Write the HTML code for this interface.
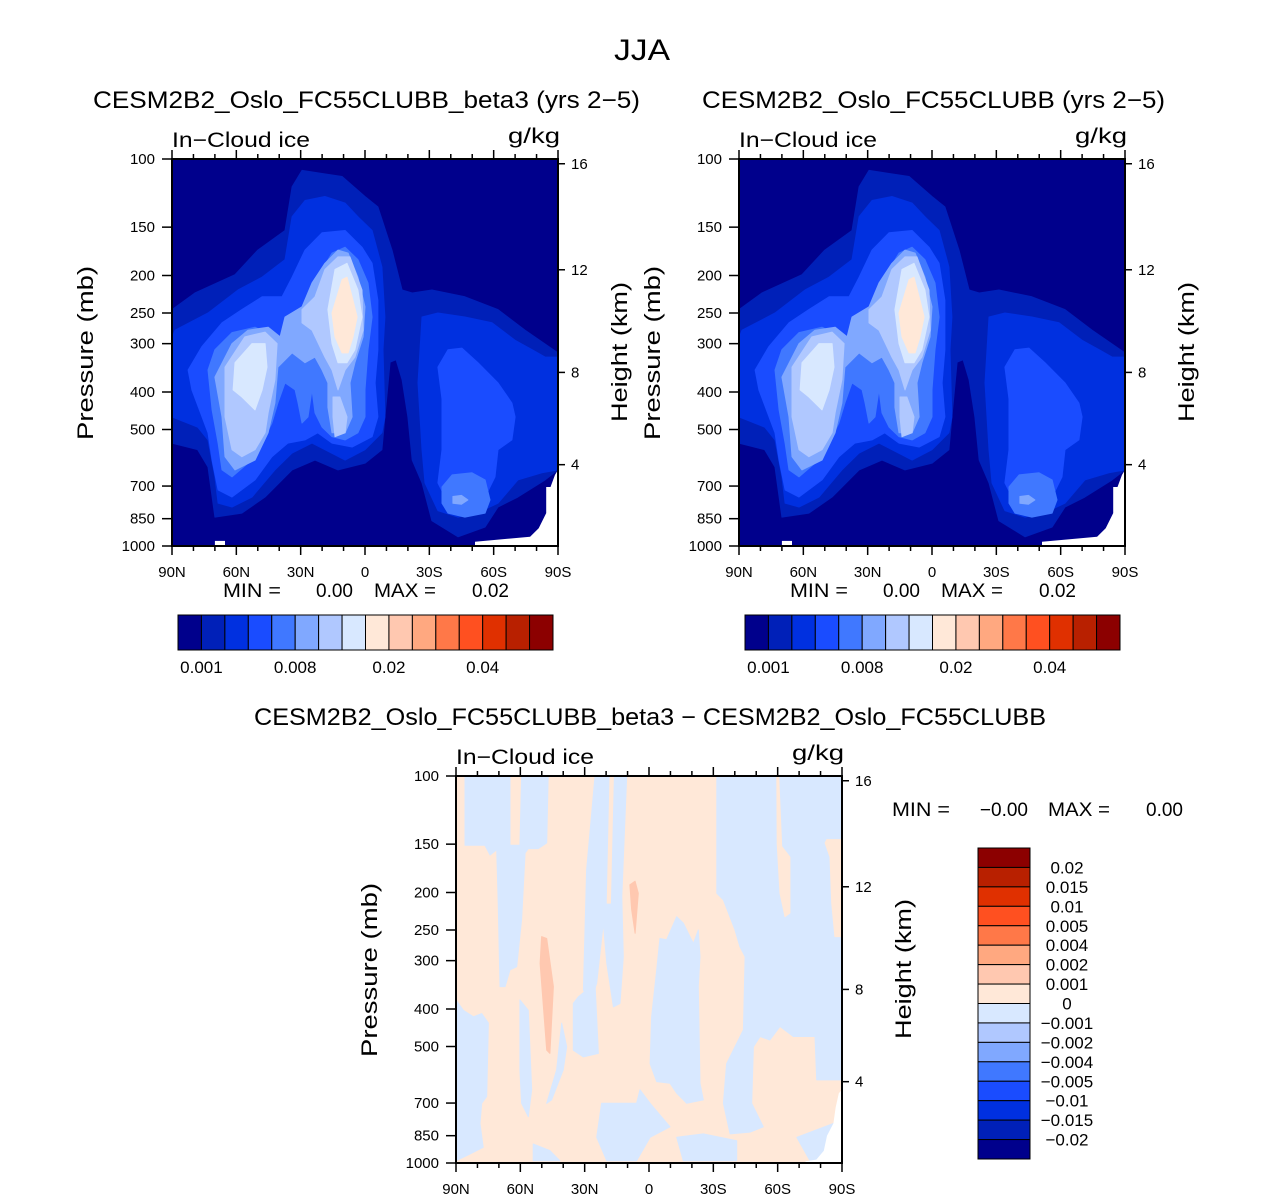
<!DOCTYPE html>
<html><head><meta charset="utf-8"><style>
html,body{margin:0;padding:0;background:#fff;}
svg{display:block;font-family:"Liberation Sans",sans-serif;}
</style></head><body>
<svg id="fig" width="1285" height="1200" viewBox="0 0 1285 1200" xmlns="http://www.w3.org/2000/svg">
<rect x="0" y="0" width="1285" height="1200" fill="#fff"/>
</svg>
<script>
const COLORS = ["#00008c","#0020b8","#0030e0","#1a4cff","#4078ff","#80a8ff","#b0c8ff","#d8e8ff","#ffe8d8","#ffc8b0","#ffa880","#ff7848","#ff5020","#e03000","#b82000","#8c0000"];
const pressureTicks = [100,150,200,250,300,400,500,700,850,1000];
const heightTicks = [4,8,12,16];
const latTicks = [90,60,30,0,-30,-60,-90];
const latTickLabels = ["90N","60N","30N","0","30S","60S","90S"];
const topLegendLabels = ["0.001","0.008","0.02","0.04"];
const topLegendLabelIdx = [1,5,9,13];
const diffLegendLabels = ["0.02","0.015","0.01","0.005","0.004","0.002","0.001","0","\u22120.001","\u22120.002","\u22120.004","\u22120.005","\u22120.01","\u22120.015","\u22120.02"];

/* ---- top panel contour polygons, [lat, pressure] ---- */
const iceL1 = [[90,245],[79.3,222],[60.6,199],[50,172],[37.3,153],[34,118],[29.4,107],[20,109],[10.7,111],[0,125],[-6,133],[-12.6,172],[-17.3,218],[-22,222],[-31.2,218],[-46.6,227],[-62,245],[-74.6,277],[-90,317],[-90,636],[-84,675],[-71.3,747],[-62,793],[-56,893],[-43.4,947],[-31.2,860],[-26.6,687],[-22,600],[-20,464],[-17.3,372],[-14.5,330],[-11.7,335],[-9.3,464],[-7.9,564],[0,611],[12.6,636],[23.3,600],[34,636],[46.6,747],[57.4,822],[70,842],[73.2,625],[78,564],[90,542]];
const iceL2a = [[88.6,277],[73.2,250],[59.2,218],[48,202],[37.3,182],[34,141],[28,128],[18.7,125],[9.3,130],[3.3,141],[-3.3,153],[-7.9,190],[-9.3,256],[-8.4,311],[-9.3,464],[-7.9,510],[0,564],[9.3,600],[18.7,564],[24.7,542],[34,575],[42,636],[52.7,747],[62,793],[68.5,775],[70,663],[73.2,532],[78,493],[90,464],[90,290]];
const iceL2b = [[-26.6,256],[-34,250],[-46.6,256],[-59.2,265],[-70,294],[-77.9,311],[-84,325],[-90,325],[-90,636],[-82.5,647],[-71.3,675],[-62,775],[-54.6,810],[-43.4,842],[-34,810],[-28,687],[-26.6,564],[-24.7,379]];
const iceL3a = [[82.5,351],[76,305],[66.7,265],[57.4,245],[48,227],[38.7,227],[34,202],[28,172],[20,155],[9.3,153],[1.4,169],[-3.3,186],[-6,232],[-6,311],[-4.7,379],[-6,464],[-3.3,522],[6,555],[15.4,542],[22,510],[28,532],[36,542],[43.4,588],[51.3,675],[62,747],[68.5,716],[71.3,600],[73.2,510],[80.7,395]];
const iceL3b = [[-34,345],[-38.7,311],[-45.2,308],[-52.7,336],[-62,379],[-68.5,427],[-70,464],[-68.5,532],[-62,564],[-60.6,663],[-56,747],[-46.6,775],[-37.3,747],[-34,687],[-35.9,564],[-35.9,417]];
const iceL4a = [[73.2,351],[70,311],[62,281],[51.3,272],[42,288],[40.6,311],[36,311],[31.2,265],[28,235],[23.3,218],[20,193],[15.4,175],[9.3,169],[3.3,182],[-1.4,209],[-3.3,256],[-1.4,311],[0,395],[0,464],[3.3,510],[9.3,532],[15.4,522],[20,493],[23.3,453],[24.7,395],[26.6,464],[29.4,481],[31.2,427],[32.6,395],[37.3,379],[40.6,427],[43.4,481],[48,542],[54.6,611],[62,663],[66.7,636],[68.5,542],[71.3,445]];
const iceL4b = [[-35.9,704],[-40.6,655],[-49.9,647],[-56,675],[-58.3,760],[-56,822],[-46.6,842],[-38.7,822],[-35.9,775]];
const iceL5a = [[70,366],[62,300],[54.6,277],[45.2,272],[39.6,288],[37.3,256],[29.4,241],[24.7,209],[18.7,186],[12.6,172],[7.9,175],[3.3,202],[0,241],[0.9,288],[4.7,336],[7,379],[6,464],[9.3,510],[15.4,510],[17.3,438],[17.3,379],[20,351],[23.3,325],[28,336],[34,317],[40.6,345],[42,427],[45.2,510],[51.3,600],[60.6,636],[65.3,588],[66.7,464]];
const iceL5b = [[-41,745],[-45,740],[-48,760],[-45,780],[-41,775]];
const iceL6a = [[65.3,345],[56,288],[46.6,280],[41,300],[42,372],[45.2,453],[46.6,510],[51.3,564],[57.4,588],[62,564],[65.3,464]];
const iceL6b = [[29.4,245],[23.3,227],[18.7,193],[12.6,179],[7,179],[1.4,218],[0.9,277],[4.7,325],[9.3,351],[12.6,395],[15.4,351],[18.7,325],[24.7,277],[29.4,265]];
const iceL6c = [[14.9,412],[11.7,412],[8.4,464],[9.3,510],[14,522],[14.9,464]];
const iceL7a = [[60.6,336],[52.7,300],[46.6,300],[45.7,345],[48,395],[51.3,445],[57.4,412],[61.5,395]];
const iceL7b = [[17.3,245],[14,193],[8.4,186],[3.3,218],[1.4,256],[4.7,311],[8.4,336],[12.6,336],[15.4,300]];
const iceL8 = [[15.4,250],[10.7,205],[8.4,202],[5.6,232],[3.7,256],[5.6,288],[7.9,317],[10.7,317],[14,288]];
const iceMissingA = [[-90,636],[-88.6,655],[-86.5,704],[-84.5,704],[-84.5,822],[-81,900],[-77,947],[-51.3,975],[-51.3,1000],[-90,1000]];
const iceMissingB = [[70,970],[65.3,970],[65.3,1000],[70,1000]];
const iceContours = [iceL1,iceL2a,iceL2b,iceL3a,iceL3b,iceL4a,iceL4b,iceL5a,iceL5b,iceL6a,iceL6b,iceL6c,iceL7a,iceL7b,iceL8];
const iceContourLevels = [1,2,2,3,3,4,4,5,5,6,6,6,7,7,8];

/* ---- difference panel polygons ---- */
const diffB1 = [[85.8,100],[64.8,100],[64.8,151],[60.2,151],[59.4,100],[47,100],[47.7,149],[51.6,154],[56.3,154],[57.8,158],[59.4,235],[61.7,311],[64.8,317],[67.1,350],[69.5,350],[70.3,213],[71,155],[74.1,160],[76.5,151],[85.8,151]];
const diffB2 = [[25.2,100],[10.4,100],[12.7,205],[12,293],[13.5,387],[16.6,395],[19.7,305],[21.3,240],[24.4,343],[27.5,387],[30.6,357],[29.1,175]];
const diffB3 = [[32.9,372],[25.2,343],[23.6,521],[30.6,532],[35.3,511],[35.3,387]];
const diffB4 = [[-5.1,263],[-8.2,265],[-12.9,231],[-16,240],[-20.7,271],[-23,250],[-23.8,293],[-23,350],[-23.8,622],[-25.3,687],[-17.6,701],[-12.9,660],[-9.8,622],[-3.6,616],[-0.5,554],[-1.2,419],[-3.6,317]];
const diffB5 = [[-31.6,100],[-90,100],[-90,610],[-78.2,610],[-77.4,471],[-67.3,471],[-61.1,444],[-56.4,481],[-51.8,471],[-48.7,501],[-47.9,701],[-53.3,806],[-47.1,832],[-37.8,841],[-34.7,701],[-36.2,554],[-44,453],[-44.8,293],[-42.4,276],[-40.1,250],[-34.7,209],[-31.6,201]];
const diffB6 = [[90,379],[86.6,403],[81.9,419],[78,411],[74.9,435],[75.7,673],[78,701],[78.8,790],[77.3,911],[83.5,948],[90,987]];
const diffB7 = [[60.2,379],[56.3,403],[54.7,647],[56.3,759],[59.4,701],[60.2,575]];
const diffB8 = [[40.7,435],[38.4,501],[40,575],[45.4,687],[47.7,701],[43.1,575]];
const diffB9 = [[22.1,701],[5.8,701],[4.2,647],[-0.5,701],[-9.8,806],[-0.5,858],[5.8,987],[19.7,987],[24.4,858]];
const diffB10 = [[54,893],[46.2,929],[41.5,987],[54,987]];
const diffB11 = [[-12.9,858],[-25.3,841],[-40.9,876],[-40.9,987],[-16,987]];
const diffB12 = [[-68.9,858],[-90,775],[-90,1000],[-75.1,987]];
const diffP0 = [[18.2,100],[16.6,100],[18,213],[19.5,213]];
const diffP1 = [[-59.6,100],[-60.5,100],[-61.9,152],[-65.7,162],[-65.7,226],[-63.4,231],[-61.1,201],[-59.8,150]];
const diffP2 = [[-82.9,146],[-90,146],[-90,260],[-86.7,260],[-85.2,213],[-84.4,162],[-82.1,149]];
const diffR1 = [[50.1,260],[47.7,263],[44.6,350],[46.2,521],[47.7,511],[50.8,305]];
const diffR2 = [[8.9,191],[6.5,187],[5,201],[6.5,255],[8.1,221]];
const diffMissing = [[-90,647],[-88.5,660],[-87,720],[-86,790],[-83,850],[-81.5,930],[-78,980],[-73,990],[-73,1000],[-90,1000]];
const diffContours = [diffB1,diffB2,diffB3,diffB4,diffB5,diffB6,diffB7,diffB8,diffB9,diffB10,diffB11,diffB12,diffP0,diffP1,diffP2,diffR1,diffR2];
const diffContourLevels = [7,7,7,7,7,7,7,7,7,7,7,7,8,8,8,9,9];

const NS = "http://www.w3.org/2000/svg";
const svg = document.getElementById("fig");
function mk(tag, attrs, parent){const e=document.createElementNS(NS,tag);for(const k in attrs)e.setAttribute(k,attrs[k]);(parent||svg).appendChild(e);return e;}
function txt(s, attrs, parent){const e=mk("text",attrs,parent);if(attrs.textLength)e.setAttribute("lengthAdjust","spacingAndGlyphs");e.textContent=s;return e;}
function heightToP(h){return h<=11?1013.25*Math.pow(1-h/44.3308,5.25588):226.32*Math.exp(-(h-11)/6.3416);}

const W=386,H=387;
function drawPanel(x0,y0,bgLevel,contours,levels,missing,name){
  const xOf=lat=>x0+(90-lat)/180*W;
  const yOf=p=>y0+Math.log10(p/100)*H;
  const g=mk("g",{});
  
  
  const bg=mk("rect",{x:x0,y:y0,width:W,height:H,fill:COLORS[bgLevel]},g);
  
  
  contours.forEach((poly,i)=>{
    const pts=poly.map(d=>xOf(d[0]).toFixed(1)+","+yOf(d[1]).toFixed(1)).join(" ");
    const e=mk("polygon",{points:pts,fill:COLORS[levels[i]],stroke:COLORS[levels[i]],"stroke-width":1,"stroke-linejoin":"round"},g);
    
    
  });
  missing.forEach(poly=>{
    const pts=poly.map(d=>xOf(d[0]).toFixed(1)+","+yOf(d[1]).toFixed(1)).join(" ");
    const e=mk("polygon",{points:pts,fill:"#fff"},g);
    
    
  });
  const fr=mk("rect",{x:x0,y:y0,width:W,height:H,fill:"none",stroke:"#000","stroke-width":2},g);
  
  
  for(let lat=90;lat>=-90;lat-=10){
    const x=xOf(lat), major=(lat%30===0), L=major?9:5;
    mk("line",{x1:x,y1:y0,x2:x,y2:y0-L,stroke:"#000","stroke-width":1.5},g);
    mk("line",{x1:x,y1:y0+H,x2:x,y2:y0+H+L,stroke:"#000","stroke-width":1.5},g);
  }
  latTicks.forEach((lat,i)=>{
    const t=txt(latTickLabels[i],{x:xOf(lat),y:y0+H+31,"font-size":15,"text-anchor":"middle",fill:"#000"},g);
    
    
  });
  pressureTicks.forEach(p=>{
    const y=yOf(p);
    mk("line",{x1:x0-10,y1:y,x2:x0,y2:y,stroke:"#000","stroke-width":1.5},g);
    const t=txt(String(p),{x:x0-17,y:y+5,"font-size":15,"text-anchor":"end",fill:"#000"},g);
    
    
  });
  heightTicks.forEach(h=>{
    const y=yOf(heightToP(h));
    mk("line",{x1:x0+W,y1:y,x2:x0+W+7,y2:y,stroke:"#000","stroke-width":1.5},g);
    const t=txt(String(h),{x:x0+W+13,y:y+5,"font-size":15,fill:"#000"},g);
    
    
  });
  const yl=txt("Pressure  (mb)",{x:0,y:0,"font-size":22,"text-anchor":"middle",textLength:174,transform:`translate(${x0-79},${y0+194}) rotate(-90)`,fill:"#000"},g);
  
  
  const yr=txt("Height  (km)",{x:0,y:0,"font-size":22,"text-anchor":"middle",textLength:140,transform:`translate(${x0+W+69},${y0+193}) rotate(-90)`,fill:"#000"},g);
  
  
  const ls=txt("In\u2212Cloud ice",{x:x0,y:y0-12,"font-size":21,textLength:138,fill:"#000"},g);
  
  
  const rs=txt("g/kg",{x:x0+W+2,y:y0-16,"font-size":21,"text-anchor":"end",textLength:52,fill:"#000"},g);
  
  
}

drawPanel(172,159,0,iceContours,iceContourLevels,[iceMissingA,iceMissingB],"panel-beta3");
drawPanel(739,159,0,iceContours,iceContourLevels,[iceMissingA,iceMissingB],"panel-control");
drawPanel(456,776,8,diffContours,diffContourLevels,[diffMissing],"panel-difference");

const tMain=txt("JJA",{x:642,y:60,"font-size":30,"text-anchor":"middle",textLength:56,fill:"#000"});


const t1=txt("CESM2B2_Oslo_FC55CLUBB_beta3 (yrs 2\u22125)",{x:93,y:108,"font-size":24,textLength:547,fill:"#000"});


const t2=txt("CESM2B2_Oslo_FC55CLUBB (yrs 2\u22125)",{x:702,y:108,"font-size":24,textLength:463,fill:"#000"});


const t3=txt("CESM2B2_Oslo_FC55CLUBB_beta3 \u2212 CESM2B2_Oslo_FC55CLUBB",{x:254,y:725,"font-size":24,textLength:792,fill:"#000"});



function minmax(x,y,minV,maxV,name,gap){
  const g=mk("g",{});
  
  
  txt("MIN  =",{x:x,y:y,"font-size":19,textLength:58,fill:"#000"},g);
  txt(minV,{x:x+gap[0],y:y,"font-size":19,"text-anchor":"end",fill:"#000"},g);
  txt("MAX  =",{x:x+gap[1],y:y,"font-size":19,textLength:62,fill:"#000"},g);
  txt(maxV,{x:x+gap[2],y:y,"font-size":19,"text-anchor":"end",fill:"#000"},g);
}
minmax(223,597,"0.00","0.02","min-max-left",[130,151,286]);
minmax(790,597,"0.00","0.02","min-max-right",[130,151,286]);
minmax(892,816,"\u22120.00","0.00","min-max-diff",[136,156,291]);

function hLegend(x0,y0,name){
  const g=mk("g",{});
  
  
  const w=375/16;
  COLORS.forEach((c,i)=>{
    const r=mk("rect",{x:x0+i*w,y:y0,width:w,height:35,fill:c,stroke:"#000","stroke-width":1},g);
    
    
  });
  topLegendLabels.forEach((s,i)=>{
    const t=txt(s,{x:x0+topLegendLabelIdx[i]*w,y:y0+58,"font-size":17,"text-anchor":"middle",fill:"#000"},g);
    
    
  });
}
hLegend(178,615,"colorbar-left");
hLegend(745,615,"colorbar-right");

(function(){
  const g=mk("g",{});
  
  
  const x0=978,y0=848,h=311/16;
  COLORS.slice().reverse().forEach((c,i)=>{
    const r=mk("rect",{x:x0,y:y0+i*h,width:52,height:h,fill:c,stroke:"#000","stroke-width":1},g);
    
    
  });
  diffLegendLabels.forEach((s,i)=>{
    const t=txt(s,{x:1067,y:y0+(i+1)*h+6,"font-size":17,"text-anchor":"middle",fill:"#000"},g);
    
    
  });
})();
</script>
</body></html>
